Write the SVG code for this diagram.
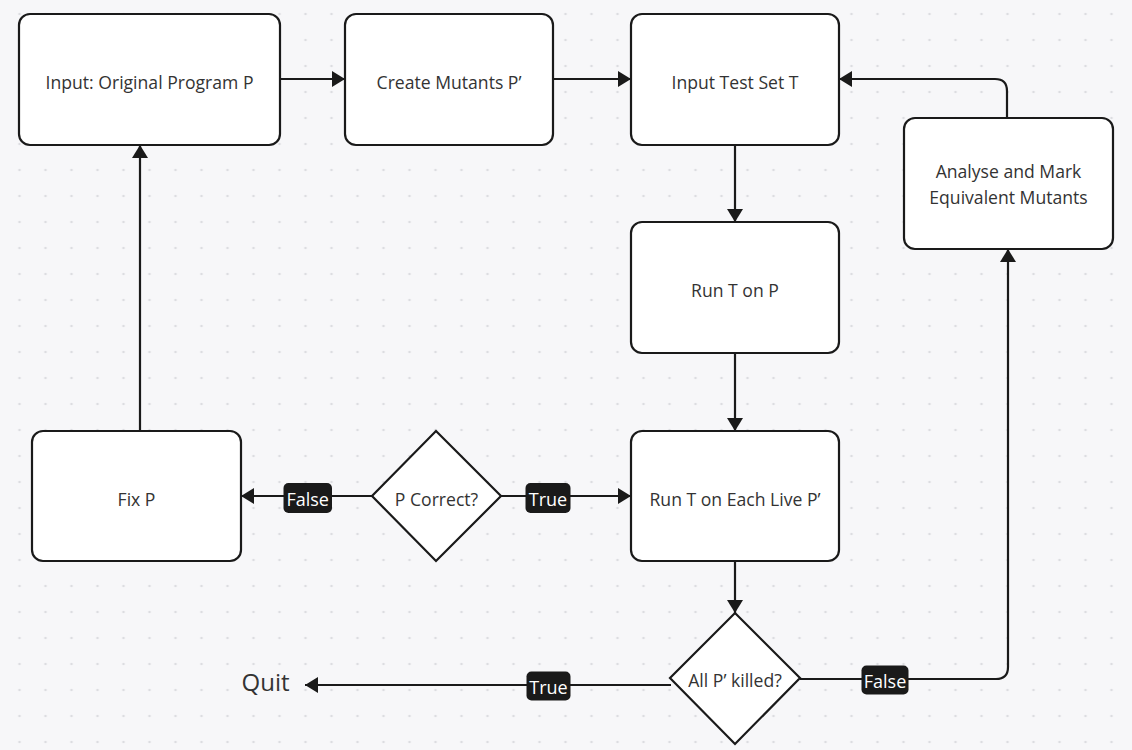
<svg xmlns="http://www.w3.org/2000/svg" width="1132" height="750" viewBox="0 0 1132 750">
<defs>
<pattern id="dots" x="6.5" y="1" width="26" height="26" patternUnits="userSpaceOnUse">
<circle cx="13" cy="13" r="1.3" fill="#dcdde1"/>
</pattern>
<marker id="arr" viewBox="0 0 13 16" refX="13" refY="8" markerWidth="13" markerHeight="16" markerUnits="userSpaceOnUse" orient="auto">
<path d="M0,0 L13,8 L0,16 z" fill="#1a1a1a"/>
</marker>
<style>
.node{fill:#ffffff;stroke:#1a1a1a;stroke-width:2.2}
.t{font-family:"Open Sans","Noto Sans","Liberation Sans",sans-serif;font-size:17.6px;fill:#333333;text-anchor:middle}
.edge{fill:none;stroke:#1a1a1a;stroke-width:2.2}
.lb{fill:#1a1a1a}
.lt{font-family:"Open Sans","Noto Sans","Liberation Sans",sans-serif;font-size:18px;font-weight:500;fill:#ffffff;text-anchor:middle}
</style>
</defs>
<rect width="1132" height="750" fill="#f7f7f9"/>
<rect width="1132" height="750" fill="url(#dots)"/>

<g id="connectors">
<path class="edge" d="M280,79 H345" marker-end="url(#arr)"/>
<path class="edge" d="M553,79 H631" marker-end="url(#arr)"/>
<path class="edge" d="M735,145 V222" marker-end="url(#arr)"/>
<path class="edge" d="M735,353 V431" marker-end="url(#arr)"/>
<path class="edge" d="M735,561 V613" marker-end="url(#arr)"/>
<path class="edge" d="M372,496 H241" marker-end="url(#arr)"/>
<path class="edge" d="M501,496 H631" marker-end="url(#arr)"/>
<path class="edge" d="M140,431 V145" marker-end="url(#arr)"/>
<path class="edge" d="M671,685 H305" marker-end="url(#arr)"/>
<path class="edge" d="M800,679 H996 Q1008,679 1008,667 V249" marker-end="url(#arr)"/>
<path class="edge" d="M1007,118 V91 Q1007,79 995,79 H839" marker-end="url(#arr)"/>
<g id="label-false-1"><rect class="lb" x="283.5" y="483" width="48.5" height="30" rx="5"/><text class="lt" x="307.7" y="505.5">False</text></g>
<g id="label-true-1"><rect class="lb" x="525.5" y="483" width="45" height="30" rx="5"/><text class="lt" x="548" y="505.5">True</text></g>
<g id="label-true-2"><rect class="lb" x="526.5" y="671.5" width="44" height="29" rx="5"/><text class="lt" x="548.5" y="694">True</text></g>
<g id="label-false-2"><rect class="lb" x="861.5" y="665.5" width="47" height="29" rx="5"/><text class="lt" x="885" y="688">False</text></g>
</g>

<g id="n-input"><rect class="node" x="19" y="14" width="261" height="131" rx="11"/><text class="t" x="149.5" y="89">Input: Original Program P</text></g>
<g id="n-mutants"><rect class="node" x="345" y="14" width="208" height="131" rx="11"/><text class="t" x="449" y="89">Create Mutants P’</text></g>
<g id="n-testset"><rect class="node" x="631" y="14" width="208" height="131" rx="11"/><text class="t" x="735" y="89">Input Test Set T</text></g>
<g id="n-analyse"><rect class="node" x="904" y="118" width="209" height="131" rx="11"/><text class="t" x="1008.5" y="178">Analyse and Mark</text><text class="t" x="1008.5" y="204">Equivalent Mutants</text></g>
<g id="n-runp"><rect class="node" x="631" y="222" width="208" height="131" rx="11"/><text class="t" x="735" y="297">Run T on P</text></g>
<g id="n-runlive"><rect class="node" x="631" y="431" width="208" height="130" rx="11"/><text class="t" x="735" y="506">Run T on Each Live P’</text></g>
<g id="n-fix"><rect class="node" x="32" y="431" width="209" height="130" rx="11"/><text class="t" x="136.5" y="506">Fix P</text></g>
<g id="n-pcorrect"><polygon class="node" points="436,431 501,496 436,561 372,496"/><text class="t" x="436.5" y="506">P Correct?</text></g>
<g id="n-killed"><polygon class="node" points="735,613 800,678 735,744 670,678"/><text class="t" x="735" y="687" font-size="16.5">All P’ killed?</text></g>
<g id="n-quit"><text x="265.5" y="691" style="font-family:'Open Sans','Noto Sans','Liberation Sans',sans-serif;font-size:24px;fill:#333333;text-anchor:middle">Quit</text></g>
</svg>
